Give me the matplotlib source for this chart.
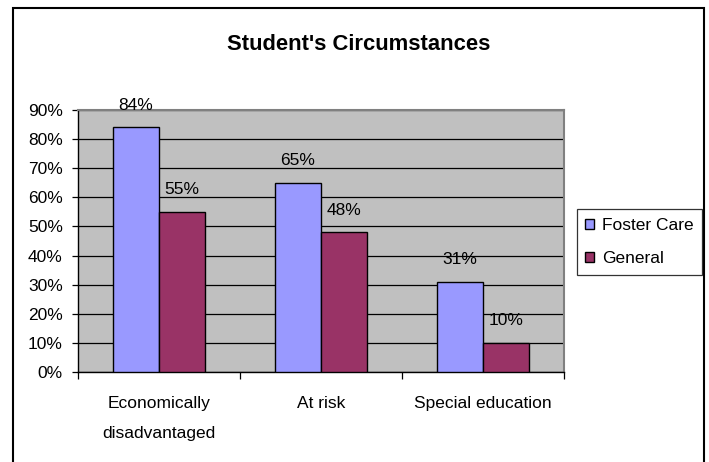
import matplotlib
matplotlib.use("Agg")
import matplotlib.pyplot as plt
from matplotlib.patches import Rectangle
import numpy as np

categories = ["Economically\ndisadvantaged", "At risk", "Special education"]
foster_care = [84, 65, 31]
general = [55, 48, 10]
series_names = ["Foster Care", "General"]
y_ticks = [0, 10, 20, 30, 40, 50, 60, 70, 80, 90]

plt.rcParams['font.family'] = ['Liberation Sans', 'DejaVu Sans']
FS = 12.5

W, H = 709, 462
fig = plt.figure(figsize=(W / 100, H / 100), dpi=100)
fig.patch.set_facecolor('white')

# outer frame
fig.add_artist(Rectangle((12.7 / W, -0.05), (704 - 12.7) / W, (462 - 8) / H + 0.05,
                         transform=fig.transFigure, fill=False, edgecolor='black',
                         linewidth=1.5, zorder=0))

ax = fig.add_axes([78 / W, (H - 372) / H, (564 - 78) / W, (372 - 110) / H])
ax.set_facecolor('#C0C0C0')

x = np.arange(len(categories))
bw = 46 / 162
b1 = ax.bar(x - bw / 2, foster_care, bw, color='#9999FF', edgecolor='black',
            linewidth=1.0, label=series_names[0], zorder=3)
b2 = ax.bar(x + bw / 2, general, bw, color='#993366', edgecolor='black',
            linewidth=1.0, label=series_names[1], zorder=3)

for bars, vals in ((b1, foster_care), (b2, general)):
    for rect, v in zip(bars, vals):
        ax.annotate(f"{v}%", (rect.get_x() + rect.get_width() / 2, rect.get_height()),
                    xytext=(0, 16), textcoords='offset points', ha='center', va='center',
                    fontsize=FS, zorder=4)

ax.set_xlim(-0.5, len(categories) - 0.5)
ax.set_ylim(0, 90)
ax.set_yticks(y_ticks)
ax.set_yticklabels([f"{t}%" for t in y_ticks], fontsize=FS)
ax.yaxis.grid(True, color='black', linewidth=0.9, zorder=1)
ax.set_axisbelow(True)
ax.tick_params(axis='y', length=4, width=0.9, pad=7, direction='out')

ax.set_xticks(x)
ax.set_xticklabels(categories, fontsize=FS, linespacing=2.25)
ax.tick_params(axis='x', which='major', length=0, pad=17)
ax.set_xticks(np.arange(len(categories) + 1) - 0.5, minor=True)
ax.tick_params(axis='x', which='minor', length=5, width=0.9, direction='out')

for s in ('left', 'bottom'):
    ax.spines[s].set_color('black')
    ax.spines[s].set_linewidth(1.0)
for s in ('top', 'right'):
    ax.spines[s].set_color('#808080')
    ax.spines[s].set_linewidth(1.5)

fig.text(359 / W, (H - 45) / H, "Student's Circumstances", ha='center', va='center',
         fontsize=15.8, fontweight='bold')

leg = fig.legend(handles=[b1, b2], labels=series_names, loc='center',
                 bbox_to_anchor=((580 + 699) / 2 / W, (H - 242) / H),
                 fontsize=FS, frameon=True, fancybox=False, edgecolor='black',
                 handlelength=0.5, handleheight=0.5, handletextpad=0.45,
                 labelspacing=1.05, borderpad=0.5, borderaxespad=0)
leg.get_frame().set_linewidth(0.9)

fig.savefig("out.png", dpi=100)
